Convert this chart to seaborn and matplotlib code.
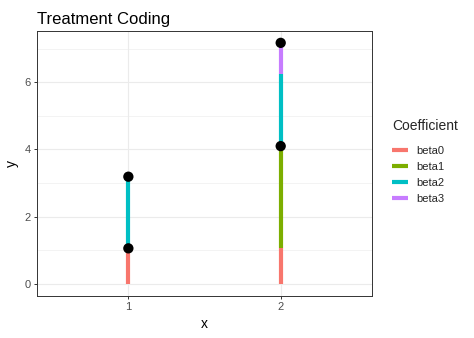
import matplotlib
matplotlib.use("Agg")
import matplotlib.pyplot as plt
import seaborn as sns
import pandas as pd
import numpy as np
from matplotlib.lines import Line2D

# Data
coef_names = ["beta0", "beta1", "beta2", "beta3"]
coef_colors = ["#F8766D", "#7CAE00", "#00BFC4", "#C77CFF"]
seg_x = [1, 1, 2, 2, 2, 2]
seg_coef = ["beta0", "beta2", "beta0", "beta1", "beta2", "beta3"]
seg_start = [0.0, 1.06, 0.0, 1.06, 4.10, 6.23]
seg_end = [1.06, 3.19, 1.06, 4.10, 6.23, 7.17]
pt_x = [1, 1, 2, 2]
pt_y = [1.06, 3.19, 4.10, 7.17]
x_ticks = [1, 2]
x_tick_labels = ["1", "2"]
y_ticks = [0, 2, 4, 6]

sns.set_theme(style="white")
plt.rcParams["font.family"] = ["Liberation Sans", "DejaVu Sans"]

rows = []
for i, (x, c, s, e) in enumerate(zip(seg_x, seg_coef, seg_start, seg_end)):
    rows.append({"x": x, "y": s, "Coefficient": c, "seg": i})
    rows.append({"x": x, "y": e, "Coefficient": c, "seg": i})
seg_df = pd.DataFrame(rows)
pt_df = pd.DataFrame({"x": pt_x, "y": pt_y})

fig = plt.figure(figsize=(4.74, 3.38), dpi=100)
ax = fig.add_axes([0.078, 0.124, 0.707, 0.785])

palette = dict(zip(coef_names, coef_colors))
sns.lineplot(data=seg_df, x="x", y="y", hue="Coefficient", units="seg",
             estimator=None, sort=False, palette=palette, linewidth=3.0,
             solid_capstyle="butt", ax=ax, legend=False, zorder=3)
sns.scatterplot(data=pt_df, x="x", y="y", color="black", s=55,
                edgecolor="none", ax=ax, zorder=4)

ax.set_xlim(0.4, 2.6)
ax.set_ylim(-0.36, 7.53)
ax.set_xticks(x_ticks)
ax.set_xticklabels(x_tick_labels)
ax.set_yticks(y_ticks)
ax.set_yticks([1, 3, 5, 7], minor=True)

grid_c = "#EBEBEB"
ax.grid(True, which="major", color=grid_c, linewidth=0.8, zorder=0)
ax.grid(True, which="minor", axis="y", color=grid_c, linewidth=0.4, zorder=0)
ax.set_axisbelow(True)
for sp in ax.spines.values():
    sp.set_color("#333333")
    sp.set_linewidth(0.7)
ax.tick_params(axis="both", which="major", length=2.5, width=0.7,
               color="#333333", labelcolor="#4D4D4D", labelsize=8, pad=2,
               left=True, bottom=True)
ax.tick_params(axis="both", which="minor", length=0)

ax.set_xlabel("x", fontsize=10, color="black", labelpad=3)
ax.set_ylabel("y", fontsize=10, color="black", labelpad=4)
ax.set_title("Treatment Coding", fontsize=12, loc="left", pad=5, color="black")

handles = [Line2D([0], [0], color=c, linewidth=3.0, solid_capstyle="butt") for c in coef_colors]
leg = fig.legend(handles, coef_names, title="Coefficient", frameon=False,
                 loc="upper left", bbox_to_anchor=(0.818, 0.66),
                 fontsize=8, title_fontsize=10, handlelength=1.4,
                 handletextpad=0.8, labelspacing=0.55, borderaxespad=0)
leg._legend_box.align = "left"
leg._legend_box.sep = 9

fig.savefig("out.png", dpi=100)
